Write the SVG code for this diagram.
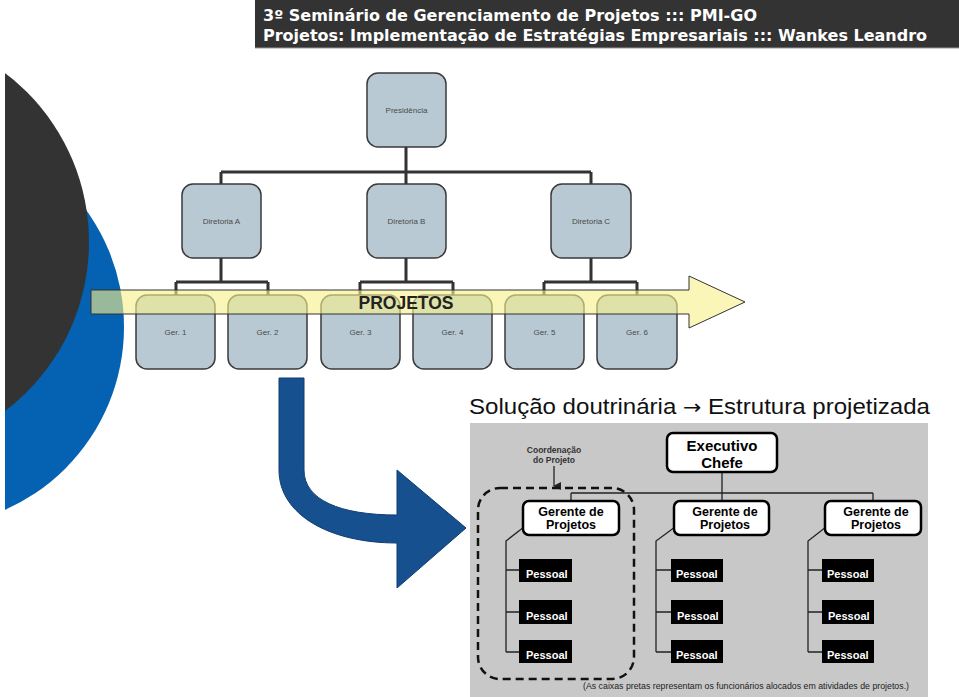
<svg xmlns="http://www.w3.org/2000/svg" width="959" height="697" viewBox="0 0 959 697">
<style>
.org{fill:#b8c9d4;stroke:#3a3a3a;stroke-width:1.5}
.olab{font-family:"Liberation Sans",Arial,sans-serif;font-size:8px;fill:#4a4a4a;text-anchor:middle}
.con{fill:none;stroke:#333;stroke-width:3}
.ttl{font-family:"DejaVu Sans",Verdana,sans-serif;font-weight:bold;font-size:16px;fill:#fff}
.wbox{fill:#fff;stroke:#000;stroke-width:2.5}
.wlab{font-family:"Liberation Sans",Arial,sans-serif;font-weight:bold;fill:#000;text-anchor:middle}
.pbox{fill:#000}
.plab{font-family:"Liberation Sans",Arial,sans-serif;font-weight:bold;font-size:11px;fill:#fff}
.tl{fill:none;stroke:#222;stroke-width:1.3}
</style>
<defs>
<marker id="ah" markerWidth="8" markerHeight="8" refX="4" refY="7" orient="auto" markerUnits="userSpaceOnUse" viewBox="0 0 8 8">
<path d="M0,0 L8,0 L4,8 Z" fill="#222"/>
</marker>
</defs>
<rect width="959" height="697" fill="#fff"/>

<!-- left decoration -->
<circle cx="-76" cy="327" r="200" fill="#0561b1"/>
<circle cx="-123" cy="242" r="212" fill="#333333"/>
<rect x="0" y="60" width="5" height="460" fill="#fff"/>

<!-- title bar -->
<g id="title">
<rect x="255" y="0" width="704" height="48" fill="#333"/>
<line x1="255" y1="48" x2="959" y2="48" stroke="#999" stroke-width="1"/>
<text class="ttl" x="263" y="21" textLength="494" lengthAdjust="spacingAndGlyphs">3º Seminário de Gerenciamento de Projetos ::: PMI-GO</text>
<text class="ttl" x="263" y="41" textLength="664" lengthAdjust="spacingAndGlyphs">Projetos: Implementação de Estratégias Empresariais ::: Wankes Leandro</text>
</g>

<!-- org chart connectors -->
<g id="connectors-top">
<path class="con" d="M406,147 V172 M221,172 H591 M221,172 V184 M406,172 V184 M591,172 V184"/>
<path class="con" d="M221,258 V282 M176,282 H268 M176,282 V295 M268,282 V295"/>
<path class="con" d="M406,258 V282 M360,282 H453 M360,282 V295 M453,282 V295"/>
<path class="con" d="M591,258 V282 M544,282 H637 M544,282 V295 M637,282 V295"/>
</g>

<g id="presidencia"><rect class="org" x="367" y="73" width="79" height="74" rx="11"/><text class="olab" x="406.5" y="113">Presidência</text></g>
<g id="diretoria-a"><rect class="org" x="182" y="184" width="79" height="74" rx="11"/><text class="olab" x="221.5" y="224">Diretoria A</text></g>
<g id="diretoria-b"><rect class="org" x="367" y="184" width="79" height="74" rx="11"/><text class="olab" x="406.5" y="224">Diretoria B</text></g>
<g id="diretoria-c"><rect class="org" x="551" y="184" width="80" height="74" rx="11"/><text class="olab" x="591" y="224">Diretoria C</text></g>

<g id="ger1"><rect class="org" x="136" y="295" width="79" height="74" rx="11"/><text class="olab" x="175.5" y="335">Ger. 1</text></g>
<g id="ger2"><rect class="org" x="228" y="295" width="79" height="74" rx="11"/><text class="olab" x="267.5" y="335">Ger. 2</text></g>
<g id="ger3"><rect class="org" x="321" y="295" width="79" height="74" rx="11"/><text class="olab" x="360.5" y="335">Ger. 3</text></g>
<g id="ger4"><rect class="org" x="413" y="295" width="79" height="74" rx="11"/><text class="olab" x="452.5" y="335">Ger. 4</text></g>
<g id="ger5"><rect class="org" x="505" y="295" width="79" height="74" rx="11"/><text class="olab" x="544.5" y="335">Ger. 5</text></g>
<g id="ger6"><rect class="org" x="597" y="295" width="80" height="74" rx="11"/><text class="olab" x="637" y="335">Ger. 6</text></g>

<!-- PROJETOS arrow -->
<g id="projetos">
<path d="M91,290 H689 V276 L745,302 L689,328 V314 H91 Z" fill="#f6f08c" fill-opacity="0.62" stroke="#333" stroke-width="1"/>
<text x="406" y="309" font-family="'Liberation Sans',Arial,sans-serif" font-weight="bold" font-size="17.5px" fill="#222" text-anchor="middle">PROJETOS</text>
</g>

<!-- blue curved arrow -->
<g id="blue-arrow">
<path d="M279,378 H304 V470 C304,500 340,515 397,515 V470 L466,528 L397,588 V543 C330,543 279,515 279,470 Z" fill="#17508f" stroke="#0e3d70" stroke-width="1"/>
</g>

<text x="469" y="414" font-family="'Liberation Sans',Arial,sans-serif" font-size="22px" fill="#111" textLength="461" lengthAdjust="spacingAndGlyphs">Solução doutrinária <tspan font-family="'DejaVu Sans',sans-serif" font-size="20px">→</tspan> Estrutura projetizada</text>

<!-- right panel -->
<g id="panel">
<rect x="470" y="423" width="458" height="274" fill="#c8c8c8"/>
</g>

<g id="connectors-right">
<path class="tl" d="M722,472 V493 M571,493 H873 M571,493 V501 M722,493 V501 M873,493 V501"/>
<path class="tl" d="M524,527 L506,541 V652 M506,570 H519 M506,612 H519 M506,652 H519"/>
<path class="tl" d="M675,527 L656,541 V652 M656,570 H671 M656,612 H671 M656,652 H671"/>
<path class="tl" d="M826,527 L808,541 V652 M808,570 H822 M808,612 H822 M808,652 H822"/>
<line x1="554" y1="466" x2="554" y2="486" stroke="#222" stroke-width="1.3" marker-end="url(#ah)"/>
</g>

<g id="executivo">
<rect class="wbox" x="667" y="433" width="110" height="39" rx="6"/>
<text class="wlab" font-size="15px" x="722" y="451">Executivo</text>
<text class="wlab" font-size="15px" x="722" y="468">Chefe</text>
</g>
<g id="gerente1">
<rect class="wbox" x="523" y="501" width="96" height="34" rx="6"/>
<text class="wlab" font-size="12.5px" x="571" y="516">Gerente de</text>
<text class="wlab" font-size="12.5px" x="571" y="529">Projetos</text>
</g>
<g id="gerente2">
<rect class="wbox" x="674" y="501" width="95" height="34" rx="6"/>
<text class="wlab" font-size="12.5px" x="725" y="516">Gerente de</text>
<text class="wlab" font-size="12.5px" x="725" y="529">Projetos</text>
</g>
<g id="gerente3">
<rect class="wbox" x="825" y="501" width="96" height="34" rx="6"/>
<text class="wlab" font-size="12.5px" x="876" y="516">Gerente de</text>
<text class="wlab" font-size="12.5px" x="876" y="529">Projetos</text>
</g>

<g id="pessoal-col1">
<rect class="pbox" x="519" y="559" width="53" height="23"/><text class="plab" x="526" y="578">Pessoal</text>
<rect class="pbox" x="519" y="600" width="53" height="24"/><text class="plab" x="526" y="620">Pessoal</text>
<rect class="pbox" x="519" y="640" width="53" height="23"/><text class="plab" x="526" y="659">Pessoal</text>
</g>
<g id="pessoal-col2">
<rect class="pbox" x="671" y="559" width="52" height="23"/><text class="plab" x="676" y="578">Pessoal</text>
<rect class="pbox" x="671" y="600" width="52" height="24"/><text class="plab" x="677" y="620">Pessoal</text>
<rect class="pbox" x="671" y="640" width="52" height="23"/><text class="plab" x="676" y="659">Pessoal</text>
</g>
<g id="pessoal-col3">
<rect class="pbox" x="822" y="559" width="52" height="23"/><text class="plab" x="827" y="578">Pessoal</text>
<rect class="pbox" x="822" y="600" width="52" height="24"/><text class="plab" x="828" y="620">Pessoal</text>
<rect class="pbox" x="822" y="640" width="52" height="23"/><text class="plab" x="827" y="659">Pessoal</text>
</g>

<g id="coordenacao">
<rect x="478" y="488" width="156" height="191" rx="22" fill="none" stroke="#111" stroke-width="2.5" stroke-dasharray="8,5"/>
<text x="554" y="453" font-family="'Liberation Sans',Arial,sans-serif" font-weight="bold" font-size="8.5px" fill="#333" text-anchor="middle">Coordenação</text>
<text x="554" y="463" font-family="'Liberation Sans',Arial,sans-serif" font-weight="bold" font-size="8.5px" fill="#333" text-anchor="middle">do Projeto</text>
</g>

<text x="583" y="689" font-family="'Liberation Sans',Arial,sans-serif" font-size="9px" fill="#222" textLength="326" lengthAdjust="spacingAndGlyphs">(As caixas pretas representam os funcionários alocados em atividades de projetos.)</text>
</svg>
